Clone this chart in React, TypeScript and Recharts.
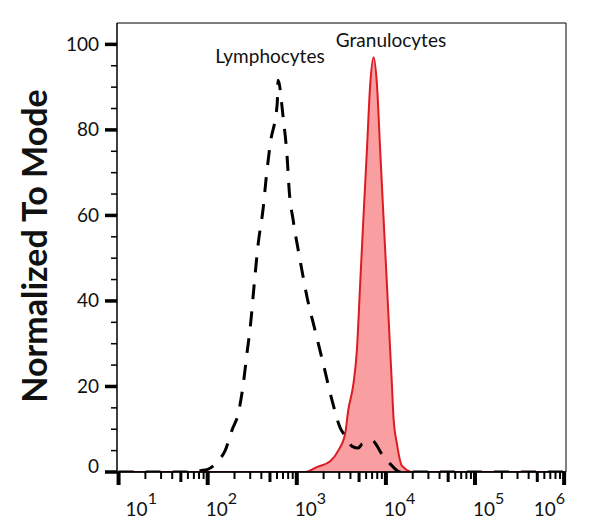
import {
  ComposedChart,
  Area,
  Line,
  XAxis,
  YAxis,
  ReferenceArea,
  Customized,
} from "recharts";

// Granulocytes histogram (red, filled)
const granIntensity = [
  10, 100, 1243, 1700, 2371, 2917, 3493, 3776, 4327, 4722, 5143, 5600, 6120,
  6670, 7265, 7930, 8630, 9400, 10260, 11170, 11670, 12160, 13280, 15100,
  20230, 1000000,
];
const granCount = [
  0, 0, 0, 1.2, 2.5, 5, 9, 14.4, 20.7, 28.4, 44, 59.6, 75.2, 90.7, 97, 90.7,
  75.2, 59.6, 44, 28.4, 20.7, 12.8, 6.7, 1.5, 0, 0,
];

// Lymphocytes histogram (black, dashed)
const lymphIntensity = [
  10, 70, 83, 100, 131, 157, 189, 220, 251, 278, 300, 333, 369, 420, 454, 504,
  603, 617, 703, 780, 822, 912, 1092, 1309, 1610, 1981, 2500, 3070, 3493,
  4190, 4890, 5420, 7020, 9080, 11170, 12700, 14460, 1000000,
];
const lymphCount = [
  0, 0, 0.3, 0.6, 2.6, 5, 10, 13.6, 20.6, 28.3, 33.7, 44, 53.4, 61.8, 68.9,
  76.8, 86.2, 91.6, 82.9, 73.5, 65.8, 58.8, 49.4, 40.7, 33, 25.3, 16.6, 10.3,
  8.4, 6, 5.6, 6.6, 7.3, 4.1, 1.9, 0.7, 0, 0,
];

const decadeTicks = [10, 100, 1000, 10000, 100000, 1000000];
const minorSteps = [2, 3, 4, 5, 6, 7, 8, 9];
const yTicks = [0, 5, 10, 15, 20, 25, 30, 35, 40, 45, 50, 55, 60, 65, 70, 75, 80, 85, 90, 95, 100];

const FONT = "Lato, 'Open Sans', sans-serif";
const X_MIN = 9.6;
const X_MAX = 1.05e6;

type Row = { x: number; gran?: number; lymph?: number };

const rows: Row[] = [];
granIntensity.forEach((x, i) => rows.push({ x, gran: granCount[i] }));
lymphIntensity.forEach((x, i) => rows.push({ x, lymph: lymphCount[i] }));
rows.sort((a, b) => a.x - b.x);

const xTicks: number[] = [...decadeTicks];
decadeTicks.slice(0, -1).forEach((d) => minorSteps.forEach((m) => xTicks.push(d * m)));
xTicks.sort((a, b) => a - b);

function XTick(props: any) {
  const { x, y, payload } = props;
  const v = payload.value as number;
  const exp = Math.round(Math.log10(v));
  const isMajor = Math.abs(v - Math.pow(10, exp)) < 1e-6 * v;
  if (!isMajor) {
    const isFive = Math.abs(v / Math.pow(10, Math.floor(Math.log10(v))) - 5) < 1e-6;
    return (
      <line
        x1={x}
        x2={x}
        y1={y}
        y2={y + (isFive ? 10 : 7)}
        stroke="#000"
        strokeWidth={isFive ? 3 : 2}
      />
    );
  }
  const first = v === decadeTicks[0];
  const last = v === decadeTicks[decadeTicks.length - 1];
  return (
    <g>
      <line x1={x} x2={x} y1={y} y2={y + 13} stroke="#000" strokeWidth={4} />
      <text
        x={last ? x + 1 : first ? x + 7 : x - 2}
        y={y + 43.5}
        textAnchor={last ? "end" : "start"}
        fontFamily={FONT}
        fontSize={19}
        fill="#111"
      >
        <tspan>10</tspan>
        <tspan dy={-12} fontSize={16}>
          {exp}
        </tspan>
      </text>
    </g>
  );
}

function YTick(props: any) {
  const { x, y, payload } = props;
  const v = payload.value as number;
  if (v % 20 !== 0) {
    return <line x1={x - 6} x2={x} y1={y} y2={y} stroke="#000" strokeWidth={1.5} />;
  }
  return (
    <g>
      <line x1={x - 12} x2={x} y1={y} y2={y} stroke="#000" strokeWidth={3.5} />
      <text
        x={x - 18}
        y={v === 0 ? y + 1 : y + 6.5}
        textAnchor="end"
        fontFamily={FONT}
        fontSize={19}
        fill="#111"
      >
        {v}
      </text>
    </g>
  );
}

function Annotations() {
  return (
    <g fontFamily={FONT} fill="#111">
      <text x={262} y={55} textAnchor="middle" fontSize={19}>
        Lymphocytes
      </text>
      <text x={383} y={39} textAnchor="middle" fontSize={19}>
        Granulocytes
      </text>
      <text
        x={0}
        y={0}
        transform="translate(39, 238) rotate(-90)"
        textAnchor="middle"
        fontSize={34}
        fontWeight={700}
      >
        Normalized To Mode
      </text>
    </g>
  );
}

export default function App() {
  return (
    <ComposedChart
      width={580}
      height={510}
      data={rows}
      margin={{ top: 15, right: 22, bottom: 6, left: 0 }}
    >
      <XAxis
        dataKey="x"
        type="number"
        scale="log"
        domain={[X_MIN, X_MAX]}
        allowDataOverflow
        ticks={xTicks}
        interval={0}
        tickLine={false}
        tickSize={0}
        tickMargin={0}
        axisLine={{ stroke: "#000", strokeWidth: 1.5 }}
        height={40}
        tick={(p: any) => <XTick {...p} />}
      />
      <YAxis
        type="number"
        domain={[0, 105]}
        allowDataOverflow
        ticks={yTicks}
        interval={0}
        tickLine={false}
        tickSize={0}
        tickMargin={0}
        width={109}
        axisLine={{ stroke: "#000", strokeWidth: 1 }}
        tick={(p: any) => <YTick {...p} />}
      />
      <Area
        type="monotone"
        dataKey="gran"
        stroke="#dc1b22"
        strokeWidth={2}
        fill="#f99ea1"
        fillOpacity={1}
        connectNulls
        dot={false}
        activeDot={false}
        isAnimationActive={false}
      />
      <Line
        type="monotone"
        dataKey="lymph"
        stroke="#000"
        strokeWidth={3}
        strokeDasharray="15 12"
        connectNulls
        dot={false}
        activeDot={false}
        isAnimationActive={false}
      />
      <ReferenceArea
        x1={X_MIN}
        x2={X_MAX}
        y1={0}
        y2={105}
        fill="none"
        stroke="#000"
        strokeWidth={1}
        ifOverflow="visible"
      />
      <Customized component={Annotations} />
    </ComposedChart>
  );
}
